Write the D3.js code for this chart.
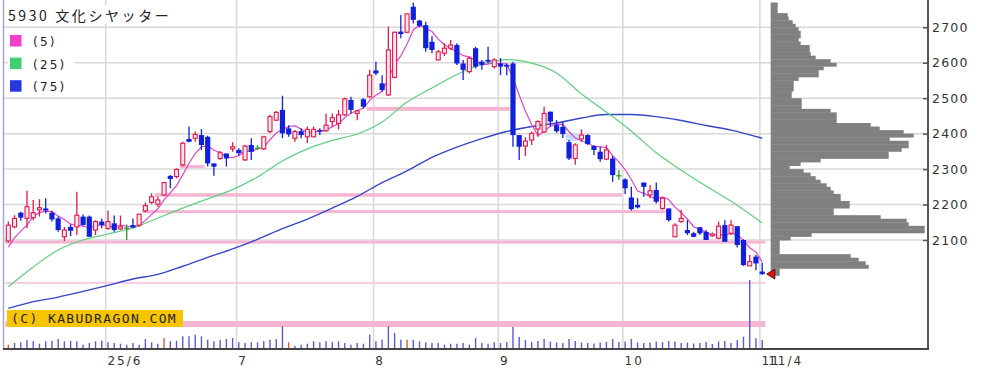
<!DOCTYPE html>
<html>
<head>
<meta charset="utf-8">
<script src="https://cdnjs.cloudflare.com/ajax/libs/d3/7.8.5/d3.min.js"></script>
<style>
body { margin: 0; background: #fff; }
svg { display: block; }
</style>
</head>
<body>
<div id="chart"></div>
<script>
var w = 994;
var h = 375;

// trading days shown, month by month
var months = ["2025-05", "2025-06", "2025-07", "2025-08", "2025-09", "2025-10", "2025-11"];
var monthDays = [
	[9,12,13,14,15,16,19,20,21,22,23,26,27,28,29,30],
	[2,3,4,5,6,9,10,11,12,13,16,17,18,19,20,23,24,25,26,27,30],
	[1,2,3,4,7,8,9,10,11,14,15,16,17,18,22,23,24,25,28,29,30,31],
	[1,4,5,6,7,8,12,13,14,15,18,19,20,21,22,25,26,27,28,29],
	[1,2,3,4,5,8,9,10,11,12,16,17,18,19,22,24,25,26,29,30],
	[1,2,3,6,7,8,9,10,14,15,16,17,20,21,22,23,24,27,28,29,30,31],
	[4]
];

var opens = [2097,2137,2177,2161,2163,2185,2189,2177,2161,2109,
	2137,2137,2166,2166,2128,2152,2133,2147,2131,2135,
	2142,2142,2182,2206,2201,2227,2281,2279,2312,2385,
	2387,2396,2391,2316,2330,2344,2357,2354,2326,2368,
	2361,2357,2406,2438,2467,2415,2387,2407,2391,2391,
	2410,2408,2434,2429,2453,2495,2457,2497,2504,2578,
	2542,2509,2559,2688,2686,2758,2719,2706,2659,2608,
	2627,2641,2650,2598,2575,2641,2603,2608,2589,2598,
	2594,2598,2396,2365,2382,2413,2405,2462,2424,2419,
	2376,2330,2385,2396,2365,2349,2328,2330,2283,2271,
	2220,2199,2262,2227,2241,2189,2189,2109,2152,2128,
	2119,2136,2123,2112,2105,2142,2119,2139,2100,2027,
	2053,2011];
var highs = [2152,2170,2180,2239,2213,2215,2218,2182,2166,2137,
	2144,2236,2172,2169,2156,2161,2183,2169,2169,2144,
	2161,2173,2206,2232,2222,2264,2283,2302,2377,2420,
	2406,2413,2394,2316,2351,2344,2376,2359,2368,2387,
	2368,2394,2453,2464,2507,2424,2410,2415,2420,2420,
	2415,2457,2457,2467,2501,2504,2467,2500,2580,2603,
	2565,2702,2688,2735,2739,2769,2721,2716,2675,2636,
	2655,2664,2655,2608,2617,2645,2608,2645,2613,2613,
	2598,2603,2396,2390,2406,2438,2476,2462,2438,2433,
	2382,2373,2412,2398,2368,2362,2368,2337,2297,2274,
	2250,2218,2262,2255,2262,2220,2189,2147,2185,2156,
	2123,2137,2128,2121,2152,2156,2156,2139,2102,2058,
	2058,2036];
var lows = [2093,2133,2154,2133,2156,2166,2175,2152,2123,2097,
	2111,2114,2140,2109,2114,2133,2128,2123,2128,2100,
	2133,2137,2178,2201,2194,2224,2246,2274,2307,2376,
	2377,2354,2307,2281,2326,2307,2349,2338,2323,2326,
	2354,2354,2401,2436,2387,2391,2377,2387,2373,2390,
	2396,2405,2420,2412,2450,2457,2438,2471,2501,2565,
	2518,2506,2556,2669,2683,2711,2700,2631,2627,2606,
	2619,2636,2594,2551,2570,2584,2580,2598,2584,2565,
	2565,2363,2326,2337,2368,2391,2402,2420,2402,2388,
	2326,2312,2377,2368,2340,2321,2326,2264,2269,2230,
	2183,2189,2222,2218,2203,2185,2152,2108,2149,2114,
	2108,2114,2100,2109,2102,2095,2114,2079,2027,2027,
	2015,2001];
var closes = [2142,2161,2163,2194,2177,2191,2183,2158,2128,2128,
	2126,2170,2142,2109,2152,2142,2152,2128,2137,2135,
	2135,2173,2197,2222,2213,2262,2272,2299,2373,2377,
	2398,2368,2316,2307,2346,2330,2363,2345,2365,2349,
	2361,2391,2448,2460,2401,2398,2406,2396,2412,2412,
	2406,2424,2445,2453,2498,2467,2464,2476,2565,2570,
	2523,2636,2686,2681,2738,2721,2704,2641,2636,2631,
	2641,2650,2598,2580,2613,2589,2594,2603,2608,2589,
	2589,2396,2363,2379,2401,2434,2457,2434,2407,2399,
	2330,2368,2396,2371,2354,2328,2354,2283,2283,2246,
	2187,2192,2250,2239,2208,2218,2156,2142,2161,2119,
	2109,2119,2100,2117,2139,2095,2142,2086,2029,2039,
	2034,2004];
// volume, thousand shares
var volumes = [86,120,134,186,154,106,154,166,200,154,
	166,154,86,120,154,166,134,120,106,86,
	120,86,200,134,106,220,154,166,254,254,
	286,254,186,154,186,200,220,134,120,134,
	134,154,186,200,454,134,66,86,106,154,
	134,154,134,154,120,86,120,106,286,154,
	186,454,320,186,186,186,154,134,120,120,
	86,106,106,120,86,220,120,106,134,120,
	140,440,240,180,140,160,200,150,130,120,
	200,160,130,120,110,130,140,200,140,150,
	200,130,120,130,150,140,160,150,120,130,
	110,120,140,100,150,160,120,180,246,1380,
	214,180];
var volumeRedDays = [0, 25, 45, 64];

// moving averages: 5 from closes, 25 / 75
var ma5Head = [2080, 2106, 2125, 2142];
var maIndex = [0,4,8,12,16,20,24,28,32,36,40,44,48,52,56,60,64,68,72,76,80,84,88,92,96,100,104,108,112,116,121];
var ma25 = [1968,2024,2072,2100,2117,2134,2162,2190,2216,2242,2278,2323,2357,2381,2399,2433,2489,2529,2567,2595,2609,2599,2571,2512,2461,2407,2346,2297,2252,2209,2148];
var ma75 = [1907,1926,1939,1955,1972,1990,2003,2026,2051,2075,2102,2132,2159,2190,2223,2262,2295,2333,2362,2386,2406,2420,2430,2444,2454,2454,2448,2437,2423,2410,2387];

// price levels (bands) with day ranges
var bandPrices = [2470, 2307, 2227, 2180, 2094, 1979, 1863];
var bandFrom = [58, 28, 24, 22, 0, 0, 0];
var bandTo = [81, 32, 99, 106, 122, 122, 122];

// gap zone
var gapFrom = [90];
var gapTo = [92];
var gapLow = [2379];
var gapHigh = [2401];

// volume by price, 10 yen bins from 2000
var profileStart = 2000;
var profileStep = 10;
var profileVol = [9,9,98,95,88,80,9,9,9,9,
	20,41,154,154,138,136,110,63,63,79,
	79,70,70,63,60,56,50,45,40,33,
	19,30,50,118,118,131,138,138,119,143,
	133,109,100,66,66,66,60,31,31,31,
	21,21,23,23,23,28,48,48,53,66,
	60,45,40,39,39,30,28,30,30,28,
	25,22,18,17,7,7,7];

var priceTicks = [2100, 2200, 2300, 2400, 2500, 2600, 2700];

var parseDay = d3.timeParse("%Y-%m-%d");
var dates = [];
months.forEach(function(m, k) {
	monthDays[k].forEach(function(d) {
		dates.push(parseDay(m + "-" + (d < 10 ? "0" + d : d)));
	});
});
var n = dates.length;

var svg = d3.select("div#chart")
			.append("svg")
			.attr("width", w)
			.attr("height", h);

var xScale = d3.scaleBand()
			   .domain(d3.range(n))
			   .range([5.2, 765.3]);
var cx = function(i) { return xScale(i) + xScale.bandwidth() / 2; };

var yScale = d3.scaleLinear()
			   .domain([2100, 2700])
			   .range([240, 27.3]);

var volScale = d3.scaleLinear()
			   .domain([0, 1400])
			   .range([349, 279]);

var profScale = d3.scaleLinear()
			   .domain([0, 160])
			   .range([770.7, 930.7]);

var axisRight = 928;
var axisBottom = 349;

// month starts
var monthStarts = d3.range(1, n).filter(function(i) {
	return dates[i].getMonth() != dates[i - 1].getMonth();
});

// grid
svg.selectAll("line.hgrid")
   .data(priceTicks)
   .enter()
   .append("line")
   .attr("class", "hgrid")
   .attr("x1", 4)
   .attr("x2", axisRight)
   .attr("y1", function(d) { return yScale(d); })
   .attr("y2", function(d) { return yScale(d); })
   .attr("stroke", "#d8d8d8")
   .attr("stroke-width", 1.5);

svg.selectAll("line.vgrid")
   .data(monthStarts)
   .enter()
   .append("line")
   .attr("class", "vgrid")
   .attr("x1", function(i) { return xScale(i) + 0.8; })
   .attr("x2", function(i) { return xScale(i) + 0.8; })
   .attr("y1", 0)
   .attr("y2", axisBottom)
   .attr("stroke", "#d8d8d8")
   .attr("stroke-width", 1.5);

// bands
var bandHeight = [4, 3, 3.5, 3, 3, 2, 6];
svg.selectAll("rect.band")
   .data(bandPrices)
   .enter()
   .append("rect")
   .attr("class", "band")
   .attr("x", function(d, i) { return xScale(bandFrom[i]); })
   .attr("width", function(d, i) {
	   var end = bandTo[i] >= n ? xScale(n - 1) + xScale.bandwidth() : xScale(bandTo[i]);
	   return end - xScale(bandFrom[i]);
   })
   .attr("y", function(d, i) { return yScale(d) - bandHeight[i] / 2; })
   .attr("height", function(d, i) { return bandHeight[i]; })
   .attr("fill", function(d, i) { return i == 5 ? "#f6cde0" : "#f4b6d2"; });

// gap zone
svg.selectAll("rect.gap")
   .data(gapFrom)
   .enter()
   .append("rect")
   .attr("class", "gap")
   .attr("x", function(d) { return xScale(d); })
   .attr("width", function(d, i) { return xScale(gapTo[i]) - xScale(d); })
   .attr("y", function(d, i) { return yScale(gapHigh[i]); })
   .attr("height", function(d, i) { return yScale(gapLow[i]) - yScale(gapHigh[i]); })
   .attr("fill", "#c8dbf6");

// copyright box
svg.append("rect")
   .attr("x", 7)
   .attr("y", 310)
   .attr("width", 176)
   .attr("height", 17)
   .attr("fill", "#f7c500");
svg.append("text")
   .attr("x", 11)
   .attr("y", 323)
   .attr("font-family", "DejaVu Sans Mono")
   .attr("font-size", 13)
   .attr("letter-spacing", 1.4)
   .attr("fill", "#222")
   .text("(C) KABUDRAGON.COM");

// volume
svg.selectAll("line.vol")
   .data(volumes)
   .enter()
   .append("line")
   .attr("class", "vol")
   .attr("x1", function(d, i) { return cx(i); })
   .attr("x2", function(d, i) { return cx(i); })
   .attr("y1", volScale(0))
   .attr("y2", function(d) { return volScale(d); })
   .attr("stroke", function(d, i) { return volumeRedDays.indexOf(i) >= 0 ? "#d9583a" : "#5a5ad6"; })
   .attr("stroke-width", 1.4);

// moving averages
var ma5 = closes.map(function(c, i) {
	return i < 4 ? ma5Head[i] : d3.mean(closes.slice(i - 4, i + 1));
});

var line5 = d3.line()
			  .x(function(d, i) { return cx(i); })
			  .y(function(d) { return yScale(d); });
var lineMa = d3.line()
			  .curve(d3.curveMonotoneX)
			  .x(function(d, i) { return cx(maIndex[i]); })
			  .y(function(d) { return yScale(d); });

svg.append("path")
   .attr("d", lineMa(ma75))
   .attr("fill", "none")
   .attr("stroke", "#3547c4")
   .attr("stroke-width", 1.4);
svg.append("path")
   .attr("d", lineMa(ma25))
   .attr("fill", "none")
   .attr("stroke", "#5ccf80")
   .attr("stroke-width", 1.2);
svg.append("path")
   .attr("d", line5(ma5))
   .attr("fill", "none")
   .attr("stroke", "#e045cc")
   .attr("stroke-width", 1.2);

// candles
var candleColor = function(i) {
	if (closes[i] > opens[i]) return "#e3174b";
	if (closes[i] < opens[i]) return "#1020dc";
	return "#2a9a2a";
};

var candles = svg.selectAll("g.candle")
				 .data(d3.range(n))
				 .enter()
				 .append("g")
				 .attr("class", "candle");

candles.append("line")
	   .attr("x1", function(i) { return cx(i); })
	   .attr("x2", function(i) { return cx(i); })
	   .attr("y1", function(i) { return yScale(highs[i]); })
	   .attr("y2", function(i) { return yScale(lows[i]); })
	   .attr("stroke", function(i) { return candleColor(i); })
	   .attr("stroke-width", 1.3);

candles.append("rect")
	   .attr("x", function(i) { return closes[i] > opens[i] ? cx(i) - 2 : cx(i) - 2.6; })
	   .attr("width", function(i) { return closes[i] > opens[i] ? 4 : 5.2; })
	   .attr("y", function(i) { return yScale(Math.max(opens[i], closes[i])); })
	   .attr("height", function(i) {
		   return Math.max(1.3, Math.abs(yScale(opens[i]) - yScale(closes[i])));
	   })
	   .attr("fill", function(i) { return closes[i] > opens[i] ? "#fde6ee" : candleColor(i); })
	   .attr("stroke", function(i) { return closes[i] > opens[i] ? candleColor(i) : "none"; })
	   .attr("stroke-width", 1.1);

// volume by price
svg.selectAll("rect.prof")
   .data(profileVol)
   .enter()
   .append("rect")
   .attr("class", "prof")
   .attr("x", profScale(0))
   .attr("width", function(d) { return profScale(d) - profScale(0); })
   .attr("y", function(d, i) { return yScale(profileStart + (i + 1) * profileStep); })
   .attr("height", function(d, i) {
	   return yScale(profileStart + i * profileStep) - yScale(profileStart + (i + 1) * profileStep) + 0.4;
   })
   .attr("fill", "#808080");

// last price marker
var lastY = yScale(closes[n - 1]);
var tipX = xScale(n - 1) + xScale.bandwidth() + 1.5;
svg.append("path")
   .attr("d", "M" + tipX + "," + lastY + "L" + (tipX + 8) + "," + (lastY - 5) + "L" + (tipX + 8) + "," + (lastY + 5) + "Z")
   .attr("fill", "#e01414")
   .attr("stroke", "#5a0a0a")
   .attr("stroke-width", 1);

// frame
svg.append("line")
   .attr("x1", 3.5).attr("x2", 3.5)
   .attr("y1", 0).attr("y2", axisBottom)
   .attr("stroke", "#a8a8d2")
   .attr("stroke-width", 1.5);
svg.append("line")
   .attr("x1", axisRight).attr("x2", axisRight)
   .attr("y1", 0).attr("y2", axisBottom + 1)
   .attr("stroke", "#555")
   .attr("stroke-width", 2);
svg.append("line")
   .attr("x1", 3).attr("x2", axisRight + 1)
   .attr("y1", axisBottom).attr("y2", axisBottom)
   .attr("stroke", "#444")
   .attr("stroke-width", 2);

// price axis
var yAxis = d3.axisRight(yScale)
			  .tickValues(priceTicks)
			  .tickFormat(d3.format("d"))
			  .tickSizeInner(-5)
			  .tickSizeOuter(0)
			  .tickPadding(4);
var gAxis = svg.append("g")
			   .attr("transform", "translate(" + axisRight + ",0)")
			   .call(yAxis);
gAxis.select(".domain").remove();
gAxis.selectAll(".tick line")
	 .attr("stroke", "#555")
	 .attr("stroke-width", 1.5);
gAxis.selectAll(".tick text")
	 .attr("font-family", "DejaVu Sans")
	 .attr("font-size", 12.5)
	 .attr("letter-spacing", 1.2)
	 .attr("fill", "#333");

// date labels
var monthLabel = function(i, k) {
	var d = dates[i];
	return k == 0 ? d3.timeFormat("%y")(d) + "/" + (d.getMonth() + 1) : String(d.getMonth() + 1);
};
svg.selectAll("text.month")
   .data(monthStarts)
   .enter()
   .append("text")
   .attr("class", "month")
   .attr("x", function(i) { return xScale(i) + 2.5; })
   .attr("y", 365)
   .attr("font-family", "DejaVu Sans")
   .attr("font-size", 12)
   .attr("letter-spacing", 2)
   .attr("fill", "#333")
   .text(function(i, k) { return monthLabel(i, k); });

svg.append("text")
   .attr("x", cx(n - 1) + 6)
   .attr("y", 365)
   .attr("font-family", "DejaVu Sans")
   .attr("font-size", 12)
   .attr("letter-spacing", 2)
   .attr("fill", "#333")
   .text((dates[n - 1].getMonth() + 1) + "/" + dates[n - 1].getDate());

// title and legend
svg.append("rect")
   .attr("x", 6).attr("y", 5)
   .attr("width", 168).attr("height", 19)
   .attr("fill", "#fff");
svg.append("text")
   .attr("x", 8)
   .attr("y", 21)
   .attr("font-family", "Noto Sans CJK JP")
   .attr("font-size", 14)
   .attr("letter-spacing", 2.6)
   .attr("fill", "#222")
   .text("5930 文化シヤッター");

var legendNames = ["(5)", "(25)", "(75)"];
var legendColors = ["#f23fcc", "#3fd06f", "#2437e0"];
var legend = svg.selectAll("g.legend")
				.data(legendNames)
				.enter()
				.append("g")
				.attr("class", "legend")
				.attr("transform", function(d, i) { return "translate(0," + (35 + i * 22.6) + ")"; });
legend.append("rect")
	  .attr("x", 8).attr("y", -3)
	  .attr("width", 67).attr("height", 17)
	  .attr("fill", "#fff");
legend.append("rect")
	  .attr("x", 10).attr("y", 0)
	  .attr("width", 11.5).attr("height", 11.5)
	  .attr("fill", function(d, i) { return legendColors[i]; });
legend.append("text")
	  .attr("x", 33)
	  .attr("y", 11)
	  .attr("font-family", "DejaVu Sans")
	  .attr("font-size", 12)
	  .attr("letter-spacing", 2.2)
	  .attr("fill", "#222")
	  .text(function(d) { return d; });
</script>
</body>
</html>
